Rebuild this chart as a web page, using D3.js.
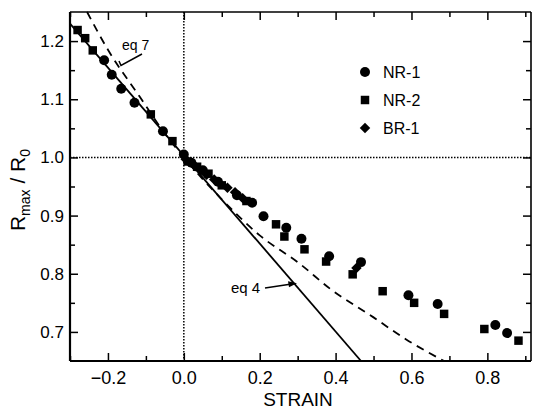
<!DOCTYPE html>
<html>
<head>
<meta charset="utf-8">
<script src="https://cdn.jsdelivr.net/npm/d3@7"></script>
<style>
  body { margin: 0; background: #fff; }
  svg { font-family: "Liberation Sans", Arial, sans-serif; }
</style>
</head>
<body>
<div class="content"></div>
<script>
// strain, Rmax/R0
var nr1 = [[-0.21,1.167],[-0.19,1.142],[-0.165,1.118],[-0.13,1.094],[-0.055,1.045],
  [0.0,1.005],[0.02,0.991],[0.05,0.978],[0.09,0.958],[0.14,0.935],[0.18,0.922],
  [0.21,0.899],[0.27,0.879],[0.31,0.86],[0.383,0.83],[0.467,0.82],[0.592,0.763],
  [0.669,0.748],[0.821,0.712],[0.852,0.698]];
var nr2 = [[-0.28,1.219],[-0.26,1.205],[-0.24,1.184],[-0.087,1.074],[-0.03,1.028],
  [0.01,0.993],[0.035,0.984],[0.065,0.972],[0.10,0.952],[0.165,0.925],[0.243,0.885],
  [0.265,0.864],[0.318,0.842],[0.375,0.821],[0.445,0.799],[0.524,0.770],[0.607,0.750],
  [0.686,0.731],[0.792,0.705],[0.882,0.685]];
var br1 = [[0.005,0.997],[0.03,0.985],[0.06,0.970],[0.08,0.962],[0.115,0.948],
  [0.135,0.940],[0.155,0.930],[0.455,0.810]];
// model curves
var eq4 = [[-0.3,1.23],[0.467,0.65]];
var eq7 = [[-0.255,1.25],[-0.2,1.185],[-0.117,1.105],[-0.05,1.041],[0,1.0],[0.1,0.928],
  [0.2,0.866],[0.304,0.818],[0.388,0.773],[0.5,0.725],[0.586,0.687],[0.686,0.65]];

var xMajor = [-0.2,0.0,0.2,0.4,0.6,0.8];
var xMinor = [-0.3,-0.1,0.1,0.3,0.5,0.7,0.9];
var yMajor = [0.7,0.8,0.9,1.0,1.1,1.2];
var yMinor = [0.75,0.85,0.95,1.05,1.15];
var seriesNames = ["NR-1","NR-2","BR-1"];

var W = 533, H = 409;
var m = {left: 70, top: 12, right: 2, bottom: 48};

var svg = d3.select('.content').append('svg').attr('width', W).attr('height', H);

var x = d3.scaleLinear().domain([-0.3, 0.915]).range([m.left, W - m.right]);
var y = d3.scaleLinear().domain([0.65, 1.25]).range([H - m.bottom, m.top]);

// reference dotted lines
svg.append('line').attr('x1', x(0)).attr('x2', x(0)).attr('y1', y.range()[1]).attr('y2', y.range()[0])
  .attr('stroke', '#000').attr('stroke-width', 1.5).attr('stroke-dasharray', '1.5,1.5');
svg.append('line').attr('x1', x.range()[0]).attr('x2', x.range()[1]).attr('y1', y(1)).attr('y2', y(1))
  .attr('stroke', '#000').attr('stroke-width', 1.5).attr('stroke-dasharray', '1.5,1.5');

function drawAxis(axis, tr, cls) {
  var g = svg.append('g').attr('transform', tr).attr('class', cls).call(axis);
  g.select('.domain').remove();
  g.selectAll('line').attr('stroke', '#000').attr('stroke-width', 1.5);
  return g;
}

var yb = H - m.bottom, xr = W - m.right;
drawAxis(d3.axisBottom(x).tickValues(xMajor).tickSize(-8).tickPadding(10).tickFormat(d3.format('.1f')),
  'translate(0,' + yb + ')', 'xb')
  .selectAll('text').attr('font-size', 18).attr('font-family', 'Liberation Sans, Arial');
drawAxis(d3.axisBottom(x).tickValues(xMinor).tickSize(-5).tickFormat(''), 'translate(0,' + yb + ')');
drawAxis(d3.axisTop(x).tickValues(xMajor).tickSize(-8).tickFormat(''), 'translate(0,' + m.top + ')');
drawAxis(d3.axisTop(x).tickValues(xMinor).tickSize(-5).tickFormat(''), 'translate(0,' + m.top + ')');
drawAxis(d3.axisLeft(y).tickValues(yMajor).tickSize(-8).tickPadding(6).tickFormat(d3.format('.1f')),
  'translate(' + m.left + ',0)', 'yl')
  .selectAll('text').attr('font-size', 17).attr('font-family', 'Liberation Sans, Arial');
drawAxis(d3.axisLeft(y).tickValues(yMinor).tickSize(-5).tickFormat(''), 'translate(' + m.left + ',0)');
drawAxis(d3.axisRight(y).tickValues(yMajor).tickSize(-8).tickFormat(''), 'translate(' + xr + ',0)');
drawAxis(d3.axisRight(y).tickValues(yMinor).tickSize(-5).tickFormat(''), 'translate(' + xr + ',0)');

// frame
svg.append('line').attr('x1', m.left).attr('x2', m.left).attr('y1', m.top).attr('y2', yb)
  .attr('stroke', '#000').attr('stroke-width', 2.2);
svg.append('line').attr('x1', m.left).attr('x2', xr).attr('y1', yb).attr('y2', yb)
  .attr('stroke', '#000').attr('stroke-width', 2.2);
svg.append('line').attr('x1', m.left).attr('x2', xr).attr('y1', m.top).attr('y2', m.top)
  .attr('stroke', '#000').attr('stroke-width', 1.6);
svg.append('line').attr('x1', xr).attr('x2', xr).attr('y1', m.top).attr('y2', yb)
  .attr('stroke', '#000').attr('stroke-width', 1.6);

// curves
var line = d3.line().x(function(d) { return x(d[0]); }).y(function(d) { return y(d[1]); })
  .curve(d3.curveMonotoneX);
svg.append('path').datum(eq4).attr('d', line).attr('fill', 'none')
  .attr('stroke', '#000').attr('stroke-width', 1.8);
svg.append('path').datum(eq7).attr('d', line).attr('fill', 'none')
  .attr('stroke', '#000').attr('stroke-width', 1.8).attr('stroke-dasharray', '8,6');

// markers
var sym = [d3.symbolCircle, d3.symbolSquare, d3.symbolDiamond2];
var sizes = [78, 72, 70];
[nr1, nr2, br1].forEach(function(data, i) {
  svg.append('g').selectAll('path').data(data).enter().append('path')
    .attr('d', d3.symbol().type(sym[i]).size(sizes[i]))
    .attr('transform', function(d) { return 'translate(' + x(d[0]) + ',' + y(d[1]) + ')'; })
    .attr('fill', '#000');
});

// legend
seriesNames.forEach(function(name, i) {
  var ly = 72 + i * 28;
  svg.append('path').attr('d', d3.symbol().type(sym[i]).size(sizes[i]))
    .attr('transform', 'translate(365,' + ly + ')').attr('fill', '#000');
  svg.append('text').attr('x', 383).attr('y', ly).attr('dy', '0.36em')
    .attr('font-size', 16).text(name);
});

// annotations
svg.append('text').attr('x', 122).attr('y', 50).attr('font-size', 14).text('eq 7');
svg.append('polyline').attr('points', '142,54 121,65.5 119,61')
  .attr('fill', 'none').attr('stroke', '#000').attr('stroke-width', 1.5);
svg.append('text').attr('x', 231).attr('y', 293).attr('font-size', 15).text('eq 4');
svg.append('line').attr('x1', 265).attr('y1', 288).attr('x2', 290).attr('y2', 284.3)
  .attr('stroke', '#000').attr('stroke-width', 1.5);
svg.append('path').attr('d', 'M297,283.3 L288,281.2 L289,287.2 Z').attr('fill', '#000');

// axis titles
svg.append('text').attr('x', 298).attr('y', 406).attr('text-anchor', 'middle')
  .attr('font-size', 19).text('STRAIN');
var yt = svg.append('text').attr('transform', 'translate(25,190) rotate(-90)')
  .attr('text-anchor', 'middle').attr('font-size', 21);
yt.append('tspan').text('R');
yt.append('tspan').attr('font-size', 14).attr('dy', 5).text('max');
yt.append('tspan').attr('dy', -5).text(' / R');
yt.append('tspan').attr('font-size', 14).attr('dy', 5).text('0');
</script>
</body>
</html>
